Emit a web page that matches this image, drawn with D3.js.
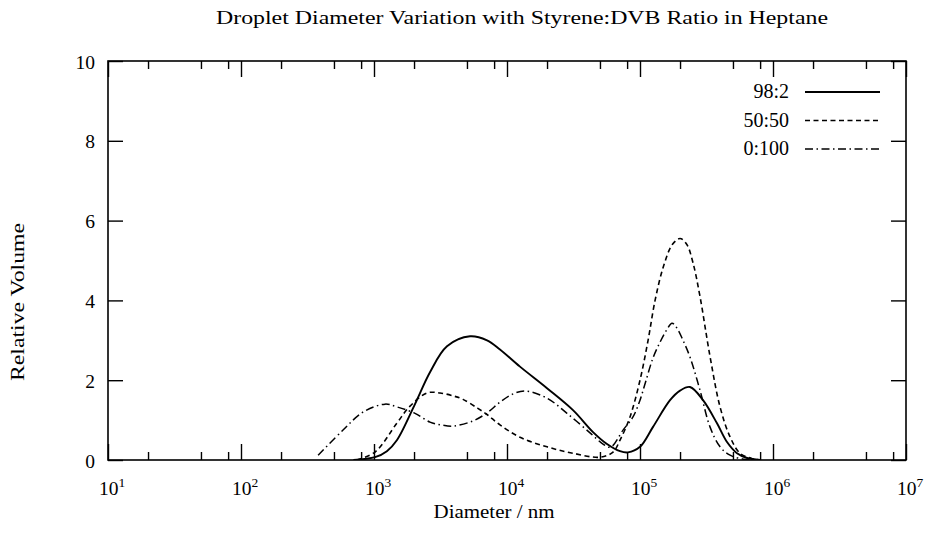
<!DOCTYPE html>
<html><head><meta charset="utf-8">
<script src="https://cdn.jsdelivr.net/npm/d3@7"></script>
<style>body{margin:0;background:#fff}svg{display:block}</style>
</head><body>
<svg id="c" width="927" height="545"></svg>
<script>
// ---- data ----
const seriesNames = ["98:2", "50:50", "0:100"];
const diam98 = [700, 1018, 1250, 1490, 2033, 2636, 3538, 5274, 7077, 8855, 12520, 19990, 31350, 44340, 56490, 70790, 81240, 100000, 125300, 168200, 200000, 237600, 297800, 379300, 451100, 536100, 638300, 800000];
const vol98  = [0, 0.07, 0.22, 0.5, 1.4, 2.2, 2.85, 3.1, 3.0, 2.77, 2.34, 1.8, 1.25, 0.7, 0.4, 0.22, 0.19, 0.33, 0.83, 1.5, 1.74, 1.83, 1.5, 0.92, 0.45, 0.17, 0.05, 0];
const diam50 = [745, 1018, 1490, 1866, 2502, 3134, 4000, 4668, 6000, 7077, 8855, 12520, 19990, 31350, 50050, 62680, 70790, 84100, 100000, 115000, 129800, 150000, 175000, 200000, 225000, 250000, 282500, 335900, 399900, 475500, 565000, 707900, 800000];
const vol50  = [0, 0.2, 0.93, 1.35, 1.68, 1.68, 1.6, 1.52, 1.3, 1.14, 0.88, 0.57, 0.33, 0.17, 0.07, 0.2, 0.5, 1.08, 2.0, 3.0, 4.0, 4.85, 5.4, 5.55, 5.4, 4.95, 4.1, 2.6, 1.33, 0.58, 0.17, 0.03, 0];
const diam0  = [380, 585, 826, 1210, 1490, 2033, 2636, 3200, 3926, 5550, 7077, 8855, 11000, 13650, 19990, 28260, 42080, 52720, 60000, 74540, 88560, 100000, 110000, 125000, 141300, 158000, 174100, 190000, 210600, 237600, 282500, 335900, 399900, 475500, 600000, 700000];
const vol0   = [0.12, 0.75, 1.2, 1.4, 1.33, 1.17, 0.95, 0.88, 0.85, 0.98, 1.18, 1.45, 1.65, 1.73, 1.55, 1.17, 0.68, 0.4, 0.32, 0.75, 1.08, 1.5, 1.95, 2.55, 2.95, 3.25, 3.43, 3.3, 3.0, 2.58, 1.75, 0.83, 0.33, 0.12, 0.02, 0];
const xMajorTicks = [1e1, 1e2, 1e3, 1e4, 1e5, 1e6, 1e7];
const xTickExponents = ["1", "2", "3", "4", "5", "6", "7"];
const xMinorMultipliers = [2, 5, 8];
const yTicks = [0, 2, 4, 6, 8, 10];
const titleText = "Droplet Diameter Variation with Styrene:DVB Ratio in Heptane";
const xLabel = "Diameter / nm";
const yLabel = "Relative Volume";

// ---- layout ----
const FONT = "'Liberation Serif', 'DejaVu Serif', serif";
const L = 108, R = 906, T = 61, B = 460;
const svg = d3.select("#c");
const x = d3.scaleLog().domain([10, 1e7]).range([L, R]);
const y = d3.scaleLinear().domain([0, 10]).range([B, T]);

svg.append("defs").append("clipPath").attr("id", "plot")
  .append("rect").attr("x", L).attr("y", T).attr("width", R - L).attr("height", B - T);

const minor = [];
xMajorTicks.slice(0, -1).forEach(d => xMinorMultipliers.forEach(m => minor.push(d * m)));

function styleAxis(g) {
  g.select(".domain").remove();
  g.selectAll("line").attr("stroke", "#000").attr("stroke-width", 1.4);
  g.selectAll("text").remove();
}
svg.append("g").attr("transform", `translate(0,${B})`)
  .call(d3.axisBottom(x).tickValues(xMajorTicks).tickSize(-16).tickFormat("")).call(styleAxis);
svg.append("g").attr("transform", `translate(0,${B})`)
  .call(d3.axisBottom(x).tickValues(minor).tickSize(-8).tickFormat("")).call(styleAxis);
svg.append("g").attr("transform", `translate(0,${T})`)
  .call(d3.axisTop(x).tickValues(xMajorTicks).tickSize(-16).tickFormat("")).call(styleAxis);
svg.append("g").attr("transform", `translate(0,${T})`)
  .call(d3.axisTop(x).tickValues(minor).tickSize(-8).tickFormat("")).call(styleAxis);
const yl = svg.append("g").attr("transform", `translate(${L},0)`)
  .call(d3.axisLeft(y).tickValues(yTicks).tickSize(-15).tickPadding(13));
yl.select(".domain").remove();
yl.selectAll("line").attr("stroke", "#000").attr("stroke-width", 1.4);
yl.selectAll("text").attr("font-family", FONT).attr("font-size", 19.5).attr("fill", "#000").attr("dy", "0.36em");
svg.append("g").attr("transform", `translate(${R},0)`)
  .call(d3.axisRight(y).tickValues(yTicks).tickSize(-15).tickFormat("")).call(styleAxis);

// frame
svg.append("rect").attr("x", L).attr("y", T).attr("width", R - L).attr("height", B - T)
  .attr("fill", "none").attr("stroke", "#000").attr("stroke-width", 1.6);

// x tick labels with superscripts
const xl = svg.append("g");
xMajorTicks.forEach((d, i) => {
  const t = xl.append("text").attr("x", x(d) + 4).attr("y", 495)
    .attr("text-anchor", "middle").attr("font-family", FONT).attr("font-size", 19.5).attr("fill", "#000");
  t.append("tspan").text("10");
  t.append("tspan").attr("dy", -8).attr("font-size", 13.5).text(xTickExponents[i]);
});

// title and axis labels
svg.append("text").attr("x", 522).attr("y", 24).attr("text-anchor", "middle")
  .attr("font-family", FONT).attr("font-size", 19)
  .attr("textLength", 612).attr("lengthAdjust", "spacingAndGlyphs").text(titleText);
svg.append("text").attr("x", 494).attr("y", 518).attr("text-anchor", "middle")
  .attr("font-family", FONT).attr("font-size", 19)
  .attr("textLength", 121).attr("lengthAdjust", "spacingAndGlyphs").text(xLabel);
svg.append("text").attr("transform", "translate(24,302) rotate(-90)").attr("text-anchor", "middle")
  .attr("font-family", FONT).attr("font-size", 19)
  .attr("textLength", 158).attr("lengthAdjust", "spacingAndGlyphs").text(yLabel);

// curves
const line = d3.line().x(d => x(d[0])).y(d => y(d[1])).curve(d3.curveCatmullRom.alpha(0.5));
const series = [
  { name: seriesNames[0], pts: d3.zip(diam98, vol98), dash: null, w: 1.9 },
  { name: seriesNames[1], pts: d3.zip(diam50, vol50), dash: "5,3.5", w: 1.6 },
  { name: seriesNames[2], pts: d3.zip(diam0, vol0), dash: "8,3.5,1.5,3.5", w: 1.5 },
];
const cg = svg.append("g").attr("clip-path", "url(#plot)");
series.forEach(s => {
  cg.append("path").attr("d", line(s.pts)).attr("fill", "none").attr("stroke", "#000")
    .attr("stroke-width", s.w).attr("stroke-dasharray", s.dash);
});

// legend
const lg = svg.append("g");
series.forEach((s, i) => {
  const yy = 92 + i * 28.5;
  lg.append("text").attr("x", 789).attr("y", yy + 6).attr("text-anchor", "end")
    .attr("font-family", FONT).attr("font-size", 20).text(s.name);
  lg.append("line").attr("x1", 805).attr("x2", 880).attr("y1", yy).attr("y2", yy)
    .attr("stroke", "#000").attr("stroke-width", s.w).attr("stroke-dasharray", s.dash);
});
</script>
</body></html>
